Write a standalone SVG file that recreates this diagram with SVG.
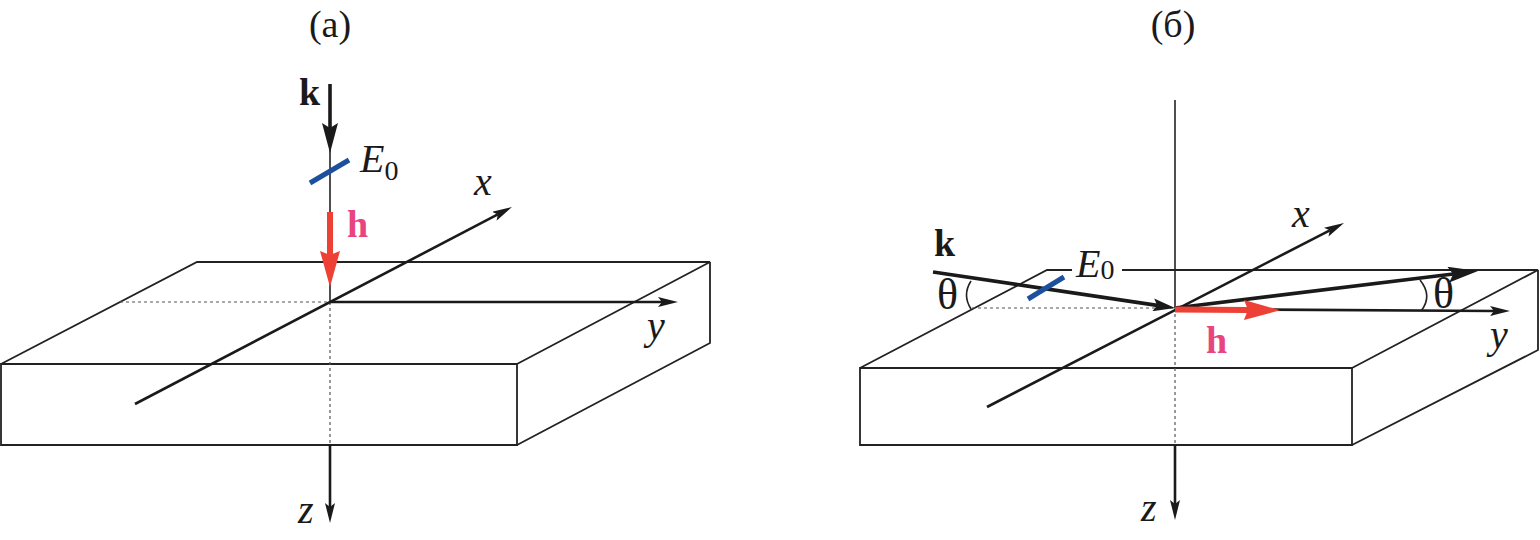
<svg xmlns="http://www.w3.org/2000/svg" width="1540" height="540" viewBox="0 0 1540 540">
<style>
.box{fill:none;stroke:#222;stroke-width:1.8;stroke-linejoin:miter}
.thin{stroke:#222;stroke-width:1.6;fill:none}
.dash{stroke:#555;stroke-width:1.2;stroke-dasharray:3,3;fill:none}
.axis{stroke:#1a1a1a;stroke-width:2.6;fill:none}
.thick{stroke:#1a1a1a;stroke-width:3.6;fill:none}
.red{stroke:#ee4136;stroke-width:6;fill:none}
.blue{stroke:#1c4f9e;stroke-width:5;fill:none}
.lbl{font-family:"Liberation Serif",serif;fill:#1a1a1a}
.it{font-style:italic}
.bold{font-weight:bold}
.pink{fill:#e8457f}
</style>
<defs>
<marker id="ax" markerUnits="userSpaceOnUse" viewBox="0 0 20 10" markerWidth="20" markerHeight="10" refX="4" refY="5" orient="auto">
<path d="M0,0 L20,5 L0,10 L4,5 z" fill="#1a1a1a"/>
</marker>
<marker id="kk" markerUnits="userSpaceOnUse" viewBox="0 0 30 16" markerWidth="30" markerHeight="16" refX="5" refY="8" orient="auto">
<path d="M0,0 L30,8 L0,16 L5,8 z" fill="#1a1a1a"/>
</marker>
<marker id="kr" markerUnits="userSpaceOnUse" viewBox="0 0 22 13" markerWidth="22" markerHeight="13" refX="4" refY="6.5" orient="auto">
<path d="M0,0 L22,6.5 L0,13 L4,6.5 z" fill="#1a1a1a"/>
</marker>
<marker id="rd" markerUnits="userSpaceOnUse" viewBox="0 0 36 20" markerWidth="36" markerHeight="20" refX="4" refY="10" orient="auto">
<path d="M0,0 L36,10 L0,20 L4,10 z" fill="#ee4136"/>
</marker>
</defs>

<!-- Panel (a) -->
<g id="panel-a-box">
<path class="box" d="M1,364 H517 V445 H1 Z"/>
<path class="box" d="M1,364 L197,262 H710 L517,364"/>
<path class="box" d="M710,262 V343 L517,445"/>
</g>
<g id="panel-a-connectors">
<line class="dash" x1="120" y1="302" x2="330" y2="302"/>
<line class="dash" x1="330" y1="302" x2="330" y2="444"/>
<line class="thin" x1="330" y1="84" x2="330" y2="302"/>
<line class="thick" x1="330" y1="84" x2="330" y2="128" marker-end="url(#kk)"/>
<line class="red" x1="330" y1="212" x2="330" y2="255" marker-end="url(#rd)"/>
<line class="blue" x1="310" y1="183" x2="349" y2="160"/>
<line class="axis" x1="330" y1="444" x2="330" y2="507" marker-end="url(#ax)"/>
<line class="axis" x1="330" y1="302" x2="662" y2="302" marker-end="url(#ax)"/>
<line class="axis" x1="135" y1="404" x2="497.8" y2="214.4" marker-end="url(#ax)"/>
</g>
<g id="panel-a-labels">
<text class="lbl" x="330" y="37" font-size="38" text-anchor="middle">(a)</text>
<text class="lbl bold" x="299" y="105" font-size="38">k</text>
<text class="lbl it" x="360" y="172" font-size="40">E<tspan font-style="normal" font-size="28" dy="8">0</tspan></text>
<text class="lbl bold pink" x="347" y="237" font-size="38">h</text>
<text class="lbl it" x="474" y="195" font-size="40">x</text>
<text class="lbl it" x="647" y="339" font-size="40">y</text>
<text class="lbl it" x="298" y="523" font-size="40">z</text>
</g>

<!-- Panel (б) -->
<g id="panel-b-box">
<path class="box" d="M860,368 H1352 V445 H860 Z"/>
<path class="box" d="M860,368 L1047,270 H1072"/>
<path class="box" d="M1122,270 H1538 L1352,368"/>
<path class="box" d="M1538,270 V350 L1352,445"/>
</g>
<g id="panel-b-connectors">
<line class="dash" x1="972" y1="308" x2="1175" y2="308"/>
<line class="dash" x1="1175" y1="308" x2="1175" y2="445"/>
<line class="thin" x1="1175" y1="100" x2="1175" y2="308"/>
<line class="axis" x1="1175" y1="445" x2="1175" y2="504" marker-end="url(#ax)"/>
<line class="axis" x1="987" y1="407" x2="1329.8" y2="230.3" marker-end="url(#ax)"/>
<line class="axis" x1="1175" y1="309" x2="1494" y2="311" marker-end="url(#ax)"/>
<line class="thick" x1="933" y1="272" x2="1157.2" y2="305.4" marker-end="url(#kr)"/>
<line class="thick" x1="1175" y1="308" x2="1453.2" y2="274" stroke-width="4" marker-end="url(#kk)"/>
<line class="red" x1="1175" y1="309.5" x2="1248" y2="310" marker-end="url(#rd)"/>
<line class="blue" x1="1028" y1="299" x2="1064" y2="277"/>
<path class="thin" d="M971,281 Q962,295 971,309"/>
<path class="thin" d="M1420,280 Q1433,296 1421,311"/>
</g>
<g id="panel-b-labels">
<text class="lbl" x="1173" y="37" font-size="38" text-anchor="middle">(б)</text>
<text class="lbl bold" x="934" y="256" font-size="38">k</text>
<text class="lbl it" x="1076" y="277" font-size="40">E<tspan font-style="normal" font-size="28" dy="2">0</tspan></text>
<text class="lbl" x="937" y="309" font-size="44">θ</text>
<text class="lbl" x="1433" y="308" font-size="44">θ</text>
<text class="lbl bold pink" x="1206" y="353" font-size="38">h</text>
<text class="lbl it" x="1292" y="227" font-size="40">x</text>
<text class="lbl it" x="1490" y="348" font-size="40">y</text>
<text class="lbl it" x="1141" y="521" font-size="40">z</text>
</g>
</svg>
